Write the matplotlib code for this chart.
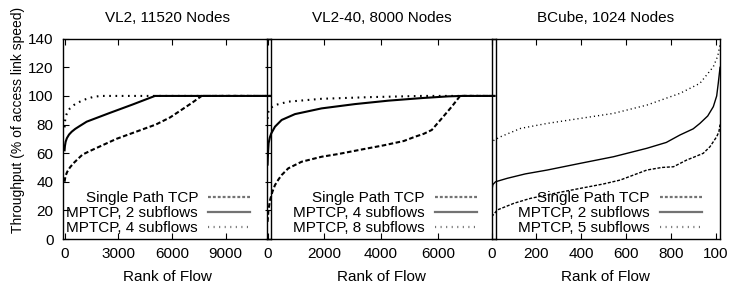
import matplotlib.pyplot as plt

plt.rcParams['font.family'] = ['Liberation Sans', 'DejaVu Sans']
plt.rcParams['font.size'] = 11

# ---- data (rank of flow, throughput %) ----
titles = ['VL2, 11520 Nodes', 'VL2-40, 8000 Nodes', 'BCube, 1024 Nodes']

# VL2, 11520 nodes
vl2_tcp_x = [0, 50, 150, 300, 500, 750, 1000, 1500, 2200, 2900, 4000, 5100, 5900, 6500, 7100, 7660, 11520]
vl2_tcp_y = [40, 44, 47, 50, 53, 56, 59, 62, 66, 70, 75, 80, 85, 90, 95, 100, 100]
vl2_mp2_x = [0, 20, 60, 130, 250, 400, 600, 850, 1235, 2500, 3800, 5050, 11520]
vl2_mp2_y = [62, 65, 68, 70.5, 73, 75, 77, 79, 82, 88, 94, 100, 100]
vl2_mp4_x = [0, 20, 60, 120, 200, 300, 450, 650, 860, 1200, 1600, 2000, 11520]
vl2_mp4_y = [78, 82, 85, 87.5, 89.5, 91.3, 93, 94.8, 96, 97.8, 99.3, 100, 100]

# VL2-40, 8000 nodes
vl40_tcp_x = [0, 30, 85, 170, 261, 380, 496, 730, 1200, 1905, 2493, 3300, 4100, 4800, 5197, 5500, 5785, 6138, 6490, 6784, 8000]
vl40_tcp_y = [12, 20, 27, 33, 37.7, 41.5, 44.7, 49.4, 54, 57.5, 59.4, 62.5, 65.5, 68.5, 71.5, 73.5, 76.2, 84.3, 92.5, 100, 100]
vl40_mp4_x = [0, 15, 37, 80, 130, 261, 496, 966, 1905, 3080, 4256, 5431, 6372, 6850, 8000]
vl40_mp4_y = [52, 60, 67, 71, 73.8, 78.5, 83.2, 87.3, 91.3, 94.3, 96.7, 98.5, 99.7, 100, 100]
vl40_mp8_x = [0, 30, 85, 261, 730, 1905, 3668, 5431, 8000]
vl40_mp8_y = [84, 89, 91.3, 93.6, 96, 98, 99.2, 100, 100]

# BCube, 1024 nodes
bc_tcp_x = [0, 25, 100, 173, 300, 396, 500, 574, 693, 760, 812, 871, 900, 945, 975, 1005, 1015, 1020]
bc_tcp_y = [15.6, 20.3, 25, 28.4, 32.5, 35.4, 38.5, 41.2, 48.2, 50, 50.5, 55.2, 57, 59.9, 64.5, 71.5, 75, 80]
bc_mp2_x = [0, 5, 17, 69, 150, 248, 396, 544, 693, 780, 841, 900, 930, 965, 990, 1005, 1012, 1020]
bc_mp2_y = [33, 38, 40, 42.4, 45.5, 48.2, 52.9, 57.5, 63.4, 67.5, 72.7, 77, 80.8, 86, 92.5, 100, 108.8, 120]
bc_mp5_x = [0, 10, 40, 129, 248, 396, 544, 693, 841, 930, 990, 1010, 1020]
bc_mp5_y = [66, 69, 71.5, 77.3, 80.8, 84.3, 87.8, 93.6, 101.8, 108.8, 120.4, 128, 136]

labels1 = ['Single Path TCP', 'MPTCP, 2 subflows', 'MPTCP, 4 subflows']
labels2 = ['Single Path TCP', 'MPTCP, 4 subflows', 'MPTCP, 8 subflows']
labels3 = ['Single Path TCP', 'MPTCP, 2 subflows', 'MPTCP, 5 subflows']

xticks1 = [0, 3000, 6000, 9000]
xticks2 = [0, 2000, 4000, 6000]
xticks3 = [0, 200, 400, 600, 800, 1000]
xticklabels3 = ['0', '200', '400', '600', '800', '100']
yticks = [0, 20, 40, 60, 80, 100, 120, 140]

fig = plt.figure(figsize=(7.44, 2.93), dpi=100)
ax1 = fig.add_axes([0.0851, 0.1843, 0.2788, 0.6836], facecolor='none')
ax2 = fig.add_axes([0.3585, 0.1843, 0.3082, 0.6836], facecolor='none')
ax3 = fig.add_axes([0.6609, 0.1843, 0.3069, 0.6836], facecolor='none')

panels = [
    (ax1, [(vl2_tcp_x, vl2_tcp_y), (vl2_mp2_x, vl2_mp2_y), (vl2_mp4_x, vl2_mp4_y)], labels1, 1.5,
     (-70, 11520), xticks1, [str(t) for t in xticks1], 0.90),
    (ax2, [(vl40_tcp_x, vl40_tcp_y), (vl40_mp4_x, vl40_mp4_y), (vl40_mp8_x, vl40_mp8_y)], labels2, 1.5,
     (-30, 8050), xticks2, [str(t) for t in xticks2], 0.916),
    (ax3, [(bc_tcp_x, bc_tcp_y), (bc_mp2_x, bc_mp2_y), (bc_mp5_x, bc_mp5_y)], labels3, 1.0,
     (0, 1020), xticks3, xticklabels3, 0.92),
]

# dash patterns in points (scaled by line width)
styles = [(0, (2.2, 1.2)), '-', (0, (0.8, 2.2))]
leg_styles = [(0, (1.3, 0.9)), '-', (0, (0.5, 2.0))]

for i, (ax, series, labels, lw, xlim, xt, xtl, legx) in enumerate(panels):
    for (x, y), ls, lab in zip(series, styles, labels):
        ax.plot(x, y, color='black', lw=lw, linestyle=ls, label=lab)
    ax.set_xlim(*xlim)
    ax.set_ylim(0, 140)
    ax.set_xticks(xt)
    ax.set_xticklabels(xtl)
    ax.tick_params(axis='x', direction='in', top=True, bottom=True, length=4.5, pad=6)
    if i == 0:
        ax.set_yticks(yticks)
        ax.tick_params(axis='y', direction='in', left=True, right=True, length=4.5, pad=7)
        ax.set_ylabel('Throughput (% of access link speed)', fontsize=10)
        ax.yaxis.set_label_coords(-0.185, 0.594)
    else:
        ax.set_yticks([])
    for sp in ax.spines.values():
        sp.set_linewidth(1.0)
    ax.set_title(titles[i], pad=12, fontsize=11)
    ax.set_xlabel('Rank of Flow', labelpad=6)
    leg = ax.legend(loc='lower right', bbox_to_anchor=(legx, 0.02), frameon=False,
                    markerfirst=False, handlelength=2.75, handletextpad=0.65,
                    labelspacing=0.05, borderpad=0, borderaxespad=0, fontsize=11)
    for ln, ls in zip(leg.get_lines(), leg_styles):
        ln.set_color('0.45')
        ln.set_linewidth(1.6)
        ln.set_linestyle(ls)

fig.savefig('out.png', dpi=100)
